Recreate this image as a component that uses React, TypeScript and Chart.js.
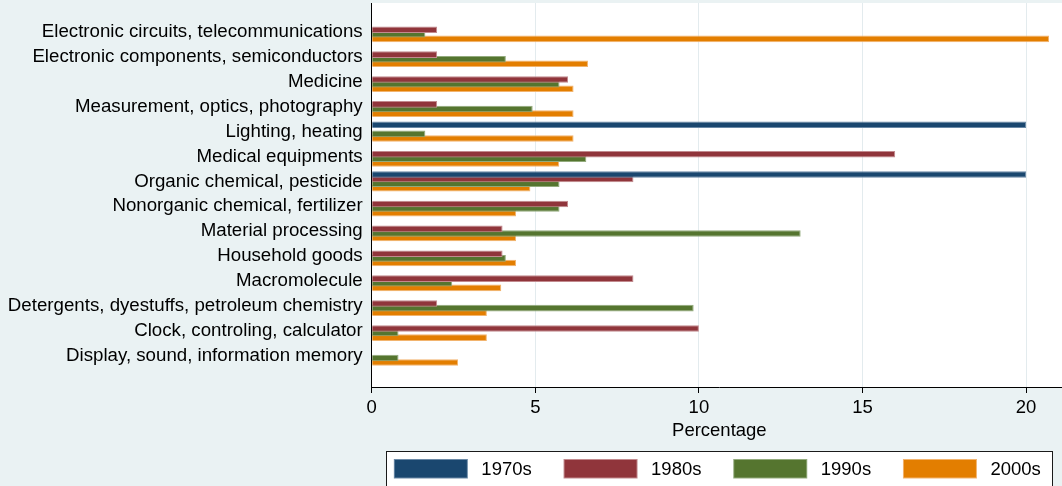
import React, { useEffect, useRef } from 'react';
import { Chart, registerables } from 'chart.js';

Chart.register(...registerables);

const categories = [
  'Electronic circuits, telecommunications',
  'Electronic components, semiconductors',
  'Medicine',
  'Measurement, optics, photography',
  'Lighting, heating',
  'Medical equipments',
  'Organic chemical, pesticide',
  'Nonorganic chemical, fertilizer',
  'Material processing',
  'Household goods',
  'Macromolecule',
  'Detergents, dyestuffs, petroleum chemistry',
  'Clock, controling, calculator',
  'Display, sound, information memory',
];

const seriesLabels = ['1970s', '1980s', '1990s', '2000s'];
const values1970s = [0, 0, 0, 0, 20, 0, 20, 0, 0, 0, 0, 0, 0, 0];
const values1980s = [2, 2, 6, 2, 0, 16, 8, 6, 4, 4, 8, 2, 10, 0];
const values1990s = [1.64, 4.1, 5.74, 4.92, 1.64, 6.56, 5.74, 5.74, 13.11, 4.1, 2.46, 9.84, 0.82, 0.82];
const values2000s = [20.7, 6.61, 6.17, 6.17, 6.17, 5.73, 4.85, 4.41, 4.41, 4.41, 3.96, 3.52, 3.52, 2.64];
const xTickValues = [0, 5, 10, 15, 20];
const xMax = 21.25;
const xTitle = 'Percentage';

const FONT = "'Liberation Sans', Arial, Helvetica, sans-serif";
const COLORS = ['#1A476F', '#90353B', '#55752F', '#E37E00'];
const EDGES = ['#6A89A6', '#C28A8E', '#93AB7D', '#F2B46E'];

const bgPlugin = {
  id: 'stataBg',
  beforeDraw(chart: any) {
    const { ctx, chartArea: a, width, height } = chart;
    ctx.save();
    ctx.fillStyle = '#EAF2F3';
    ctx.fillRect(0, 0, width, height);
    ctx.fillStyle = '#FFFFFF';
    ctx.fillRect(a.left, a.top, a.right - a.left, a.bottom - a.top);
    ctx.restore();
  },
};

const legendPlugin = {
  id: 'stataLegend',
  afterDraw(chart: any) {
    const { ctx, chartArea: a } = chart;
    const cx = (a.left + a.right) / 2;
    const boxTop = 451.5;
    ctx.save();
    ctx.fillStyle = '#FFFFFF';
    ctx.fillRect(cx - 333, boxTop, 666, 36);
    ctx.strokeStyle = '#1a1a1a';
    ctx.lineWidth = 1;
    ctx.strokeRect(Math.round(cx - 333) + 0.5, boxTop, 666, 36);
    ctx.font = `18.5px ${FONT}`;
    ctx.textBaseline = 'middle';
    ctx.textAlign = 'left';
    chart.data.datasets.forEach((ds: any, i: number) => {
      const sx = cx - 325.5 + 169.7 * i;
      ctx.fillStyle = EDGES[i];
      ctx.fillRect(sx, 459, 74, 19.5);
      ctx.fillStyle = COLORS[i];
      ctx.fillRect(sx + 1, 460, 72, 17.5);
      ctx.fillStyle = '#000';
      ctx.fillText(ds.label, sx + 87.5, 469.5);
    });
    ctx.restore();
  },
};

export default function App() {
  const ref = useRef<HTMLCanvasElement | null>(null);

  useEffect(() => {
    const canvas = ref.current;
    if (!canvas) return;
    const series = [values1970s, values1980s, values1990s, values2000s];
    const chart = new Chart(canvas, {
      type: 'bar',
      data: {
        datasets: series.map((vals, k) => ({
          label: seriesLabels[k],
          data: vals.map((v, i) => ({ x: v, y: i })),
          backgroundColor: COLORS[k],
          borderColor: EDGES[k],
          borderWidth: 1,
          borderSkipped: 'start',
          categoryPercentage: 0.739,
          barPercentage: 1.435,
        })),
      },
      options: {
        indexAxis: 'y',
        responsive: false,
        animation: false,
        events: [],
        layout: { padding: { top: 3, bottom: 44, left: 0, right: 0 } },
        plugins: {
          legend: { display: false },
          tooltip: { enabled: false },
          title: { display: false },
        },
        scales: {
          y: {
            type: 'linear',
            reverse: true,
            offset: false,
            min: -1.165,
            max: 14.26,
            afterBuildTicks: (s: any) => {
              s.ticks = categories.map((_, i) => ({ value: i }));
            },
            afterFit: (s: any) => {
              s.width = 371.7;
              s.paddingTop = 0;
              s.paddingBottom = 0;
            },
            grid: { display: false, drawTicks: false, offset: false },
            border: { display: true, color: '#000', width: 1, z: 1 },
            ticks: {
              autoSkip: false,
              padding: 9,
              color: '#000',
              font: { family: FONT, size: 18.7 },
              callback: (v: any) => categories[v] ?? '',
            },
          },
          x: {
            type: 'linear',
            position: 'bottom',
            min: 0,
            max: xMax,
            afterBuildTicks: (s: any) => {
              s.ticks = xTickValues.map((v) => ({ value: v }));
            },
            afterFit: (s: any) => {
              s.height = 55;
              s.paddingLeft = 0;
              s.paddingRight = 0;
            },
            grid: {
              display: true,
              color: '#E3EBEE',
              lineWidth: 1,
              drawTicks: true,
              tickLength: 6,
              tickColor: '#000',
              tickWidth: 1,
            },
            border: { display: true, color: '#000', width: 1, z: 1 },
            ticks: {
              padding: 4,
              color: '#000',
              font: { family: FONT, size: 18.5 },
              callback: (v: any) => String(v),
            },
            title: {
              display: true,
              text: xTitle,
              color: '#000',
              font: { family: FONT, size: 18.5 },
              padding: { top: 0, bottom: 0 },
            },
          },
        },
      } as any,
      plugins: [bgPlugin, legendPlugin],
    });
    return () => chart.destroy();
  }, []);

  return (
    <div
      style={{
        position: 'fixed',
        left: 0,
        top: 0,
        width: 1062,
        height: 486,
        overflow: 'hidden',
        background: '#EAF2F3',
      }}
    >
      <canvas ref={ref} width={1067} height={486} style={{ width: 1067, height: 486, display: 'block' }} />
    </div>
  );
}
